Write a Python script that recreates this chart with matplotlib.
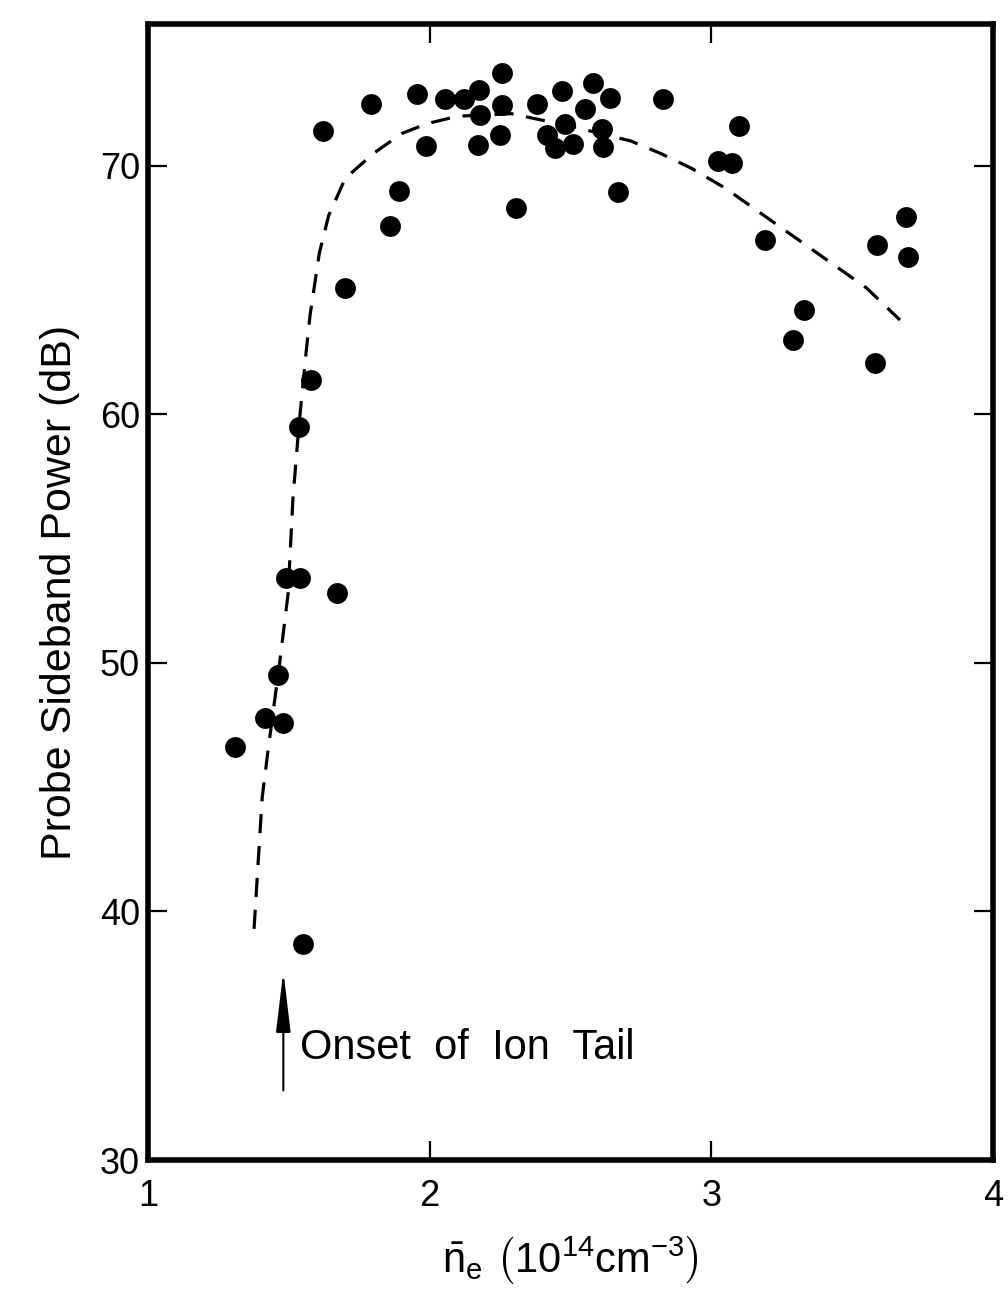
import matplotlib
matplotlib.use('Agg')
import matplotlib.pyplot as plt

plt.rcParams['font.family'] = ['Liberation Sans', 'DejaVu Sans']
plt.rcParams['mathtext.fontset'] = 'custom'
plt.rcParams['mathtext.rm'] = 'Liberation Sans'

# measured points: electron density (1e14 cm^-3) vs probe sideband power (dB)
ne = [1.31, 1.415, 1.48, 1.46, 1.49, 1.54, 1.67, 1.535, 1.58, 1.55,
      1.70, 1.62, 1.79, 1.86, 1.89, 1.955, 1.985, 2.055, 2.12, 2.175,
      2.255, 2.255, 2.18, 2.17, 2.25, 2.305, 2.38, 2.47, 2.58, 2.64,
      2.55, 2.415, 2.445, 2.51, 2.48, 2.61, 2.615, 2.67, 2.83, 3.025,
      3.075, 3.10, 3.19, 3.29, 3.33, 3.58, 3.59, 3.69, 3.70]
power = [46.6, 47.8, 47.6, 49.5, 53.4, 53.4, 52.8, 59.5, 61.4, 38.7,
         65.1, 71.4, 72.5, 67.6, 69.0, 72.9, 70.8, 72.7, 72.7, 73.05,
         73.75, 72.45, 72.05, 70.85, 71.25, 68.3, 72.5, 73.0, 73.35, 72.75,
         72.3, 71.25, 70.7, 70.9, 71.7, 71.5, 70.75, 68.95, 72.7, 70.2,
         70.1, 71.6, 67.0, 63.0, 64.2, 62.05, 66.8, 67.95, 66.35]

# hand-drawn trend curve
curve_ne = [1.376, 1.405, 1.427, 1.468, 1.497, 1.514, 1.535, 1.56, 1.575,
            1.608, 1.641, 1.70, 1.80, 1.90, 1.99, 2.10, 2.29, 2.50, 2.715,
            2.82, 2.93, 3.05, 3.15, 3.35, 3.45, 3.55, 3.67]
curve_pw = [39.3, 44.6, 46.6, 50.1, 52.8, 56.6, 59.5, 62.4, 64.0,
            66.5, 68.0, 69.5, 70.5, 71.3, 71.7, 72.0, 72.1, 71.6, 71.0,
            70.5, 69.9, 69.1, 68.3, 66.7, 65.9, 65.1, 63.8]

onset_ne = 1.48

fig = plt.figure(figsize=(10.08, 13.10), dpi=100)
ax = fig.add_axes([0.147, 0.1145, 0.838, 0.867])

ax.plot(curve_ne, curve_pw, color='black', lw=2.3, linestyle=(0, (6, 4)))
ax.plot(ne, power, 'o', color='black', markersize=15, markeredgewidth=0)

ax.annotate('', xy=(onset_ne, 37.6), xytext=(onset_ne, 32.8),
            arrowprops=dict(arrowstyle='-|>,head_length=1.5,head_width=0.18',
                            lw=1.5, color='black', mutation_scale=25,
                            shrinkA=0, shrinkB=0))
ax.text(1.54, 34.5, 'Onset  of  Ion  Tail', fontsize=30, va='center', ha='left')

ax.set_xlim(1, 4)
ax.set_ylim(30, 75.7)
ax.set_xticks([1, 2, 3, 4])
ax.set_yticks([30, 40, 50, 60, 70])
ax.tick_params(direction='in', length=14, width=1.6, top=True, right=True,
               labelsize=26)
ax.tick_params(axis='x', pad=14)
ax.tick_params(axis='y', pad=6)
for sp in ax.spines.values():
    sp.set_linewidth(4)

ax.set_ylabel('Probe Sideband Power (dB)', fontsize=31, labelpad=14)
ax.set_xlabel(r'$\bar{\mathrm{n}}_\mathrm{e}\ \left(10^{14}\mathrm{cm}^{-3}_{\,}\right)$',
              fontsize=30, labelpad=14)

fig.savefig('out.png', dpi=100)
